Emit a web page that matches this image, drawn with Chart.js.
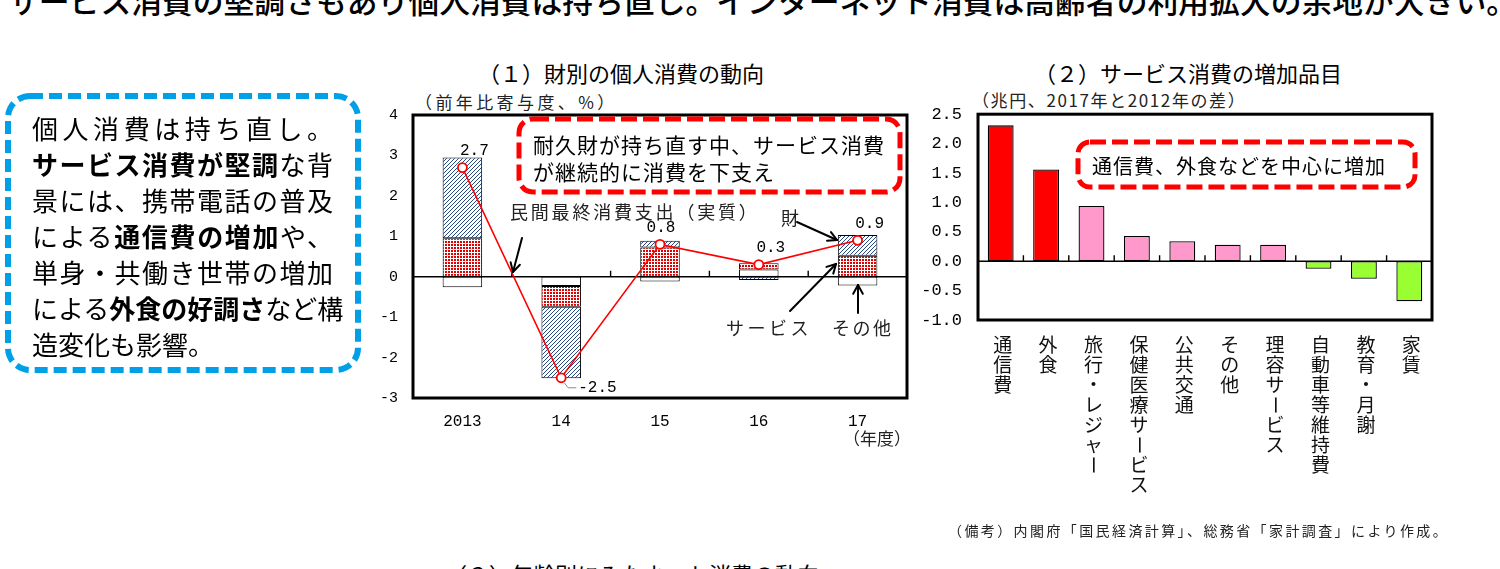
<!DOCTYPE html>
<html lang="ja">
<head>
<meta charset="UTF-8">
<title>個人消費の動向</title>
<script src="https://cdn.jsdelivr.net/npm/chart.js"></script>
<style>
  html, body { margin: 0; padding: 0; }
  body { width: 1500px; height: 569px; overflow: hidden; position: relative; background: #fff;
         font-family: "Noto Sans CJK JP", sans-serif; color: #000; }
  .abs { position: absolute; white-space: nowrap; }
  canvas { position: absolute; }
  #headline { left: 8px; top: -16px; font-size: 30.8px; line-height: 31px; font-weight: 500; }
  .title { font-size: 22px; line-height: 26px; }
  .unit { font-size: 17px; line-height: 20px; color: #222; }
  .note { font-size: 18px; line-height: 20px; color: #222; }
  #summary { left: 32px; top: 110px; width: 301px; font-size: 26px; line-height: 36px; }
  #summary div { text-align: justify; text-align-last: justify; white-space: nowrap; }
  #summary div.last { text-align-last: left; }
  #summary b { font-weight: 700; }
  .boxtext { font-size: 21px; line-height: 27px; letter-spacing: 1px; }
  #overlay { position: absolute; left: 0; top: 0; pointer-events: none; }
</style>
</head>
<body>

<div id="headline" class="abs">サービス消費の堅調さもあり個人消費は持ち直し。インターネット消費は高齢者の利用拡大の余地が大きい。</div>

<div class="abs title" style="left:478px; top:59px;">（１）財別の個人消費の動向</div>
<div class="abs title" style="left:1034px; top:59px;">（２）サービス消費の増加品目</div>
<div class="abs title" style="left:445px; top:560px;">（３）年齢別にみたネット消費の動向</div>

<div class="abs unit" style="left:415px; top:92px; letter-spacing:3.4px;">（前年比寄与度、%）</div>
<div class="abs unit" style="left:972px; top:90px; letter-spacing:1.6px;">（兆円、2017年と2012年の差）</div>

<canvas id="c1" width="545" height="369" style="left:370px; top:91px;"></canvas>
<canvas id="c2" width="520" height="412" style="left:920px; top:88px;"></canvas>

<svg id="overlay" width="1500" height="569"></svg>

<div id="summary" class="abs">
  <div>個人消費は持ち直し。</div>
  <div><b>サービス消費が堅調</b>な背</div>
  <div>景には、携帯電話の普及</div>
  <div>による<b>通信費の増加</b>や、</div>
  <div>単身・共働き世帯の増加</div>
  <div>による<b>外食の好調さ</b>など構</div>
  <div class="last">造変化も影響。</div>
</div>

<div class="abs boxtext" style="left:533px; top:131px;">耐久財が持ち直す中、サービス消費<br>が継続的に消費を下支え</div>
<div class="abs boxtext" style="left:1092px; top:154px; font-size:20px; line-height:24px;">通信費、外食などを中心に増加</div>

<div class="abs note" style="left:510px; top:201px; letter-spacing:2.8px;">民間最終消費支出（実質）</div>
<div class="abs note" style="left:781px; top:207px;">財</div>
<div class="abs note" style="left:726px; top:317px; letter-spacing:3.5px;">サービス</div>
<div class="abs note" style="left:832px; top:317px; letter-spacing:2.5px;">その他</div>
<div class="abs note" style="left:843px; top:428px; font-size:17px;">（年度）</div>

<div class="abs" style="left:948px; top:520px; font-size:14px; color:#222; letter-spacing:2.4px;">（備考）内閣府「国民経済計算」、総務省「家計調査」により作成。</div>

<script>
  // (1) 財別の個人消費の動向（前年比寄与度、%）
  const years = ['2013', '14', '15', '16', '17'];
  const goods = [2.0, -1.77, 0.17, -0.08, 0.51];
  const services = [0.95, -0.51, 0.72, 0.15, 0.52];
  const others = [-0.26, -0.23, -0.12, 0.18, -0.22];
  const privateConsumption = [2.7, -2.5, 0.8, 0.3, 0.9];

  // (2) サービス消費の増加品目（兆円）
  const items = ['通信費', '外食', '旅行・レジャー', '保健医療サービス', '公共交通', 'その他', '理容サービス', '自動車等維持費', '教育・月謝', '家賃'];
  const increase = [2.31, 1.56, 0.94, 0.43, 0.34, 0.28, 0.28, -0.13, -0.30, -0.68];
  const itemGroup = ['main', 'main', 'sub', 'sub', 'sub', 'sub', 'sub', 'down', 'down', 'down'];
  const groupColors = { main: '#ff0000', sub: '#ff99cc', down: '#99ff33' };

  function makePattern(w, h, draw) {
    const c = document.createElement('canvas');
    c.width = w; c.height = h;
    const g = c.getContext('2d');
    draw(g);
    return g.createPattern(c, 'repeat');
  }

  const hatch = makePattern(4, 4, g => {
    g.fillStyle = '#fff';
    g.fillRect(0, 0, 4, 4);
    g.strokeStyle = '#2a4a82';
    g.lineWidth = 1.0;
    g.beginPath();
    g.moveTo(0, 4); g.lineTo(4, 0);
    g.moveTo(-1, 1); g.lineTo(1, -1);
    g.moveTo(3, 5); g.lineTo(5, 3);
    g.stroke();
  });

  const dots = makePattern(3, 3, g => {
    g.fillStyle = '#fff';
    g.fillRect(0, 0, 3, 3);
    g.fillStyle = '#e00000';
    g.fillRect(0, 0, 2, 2);
  });

  // frame, zero line and the little ticks between categories
  const frame = {
    id: 'frame',
    beforeDatasetsDraw(chart) {
      const { ctx, chartArea: a, scales: { x, y } } = chart;
      const y0 = y.getPixelForValue(0);
      ctx.save();
      ctx.strokeStyle = '#000';
      ctx.lineWidth = 1.4;
      ctx.beginPath();
      ctx.moveTo(a.left, y0);
      ctx.lineTo(a.right, y0);
      for (let i = 0; i < chart.data.labels.length - 1; i++) {
        const bx = (x.getPixelForValue(i) + x.getPixelForValue(i + 1)) / 2;
        ctx.moveTo(bx, y0);
        ctx.lineTo(bx, y0 - 6);
      }
      ctx.stroke();
      ctx.restore();
    },
    afterDraw(chart) {
      const { ctx, chartArea: a } = chart;
      ctx.save();
      ctx.strokeStyle = '#000';
      ctx.lineWidth = 3;
      ctx.strokeRect(a.left, a.top, a.right - a.left, a.bottom - a.top);
      ctx.restore();
    }
  };

  const pointLabels = {
    id: 'pointLabels',
    afterDatasetsDraw(chart) {
      const { ctx } = chart;
      const meta = chart.getDatasetMeta(0);
      const vals = chart.data.datasets[0].data;
      ctx.save();
      ctx.font = '16px "Liberation Mono"';
      ctx.fillStyle = '#000';
      ctx.textBaseline = 'middle';
      meta.data.forEach((pt, i) => {
        const v = vals[i];
        const txt = v.toFixed(1);
        const peak = i > 0 && i < vals.length - 1 && vals[i - 1] < v && vals[i + 1] < v;
        if (v < 0) {
          ctx.strokeStyle = '#888';
          ctx.lineWidth = 1;
          ctx.beginPath();
          ctx.moveTo(pt.x + 3, pt.y + 5);
          ctx.lineTo(pt.x + 7, pt.y + 10);
          ctx.lineTo(pt.x + 15, pt.y + 10);
          ctx.stroke();
          ctx.textAlign = 'left';
          ctx.fillText(txt, pt.x + 17, pt.y + 10);
        } else if (peak) {
          ctx.textAlign = 'center';
          ctx.fillText(txt, pt.x + 1, pt.y - 17);
        } else {
          ctx.textAlign = 'center';
          ctx.fillText(txt, pt.x + 12, pt.y - 17);
        }
      });
      ctx.restore();
    }
  };

  const verticalLabels = {
    id: 'verticalLabels',
    afterDraw(chart) {
      const { ctx, chartArea: a, scales: { x } } = chart;
      ctx.save();
      ctx.fillStyle = '#111';
      ctx.font = '19px "Noto Sans CJK JP"';
      ctx.textAlign = 'center';
      ctx.textBaseline = 'middle';
      chart.data.labels.forEach((lab, i) => {
        const cx = x.getPixelForValue(i) + 2;
        Array.from(lab).forEach((ch, j) => {
          const cy = a.bottom + 25 + j * 20;
          if (ch === 'ー') {
            ctx.save();
            ctx.translate(cx, cy);
            ctx.rotate(Math.PI / 2);
            ctx.fillText(ch, 0, 0);
            ctx.restore();
          } else {
            ctx.fillText(ch, cx, cy);
          }
        });
      });
      ctx.restore();
    }
  };

  new Chart(document.getElementById('c1'), {
    type: 'bar',
    data: {
      labels: years,
      datasets: [
        {
          type: 'line', label: '民間最終消費支出（実質）', data: privateConsumption, stack: 'line', order: 0,
          borderColor: '#ff0000', borderWidth: 1.6, tension: 0,
          pointRadius: 4.5, pointBackgroundColor: '#fff', pointBorderColor: '#ff0000', pointBorderWidth: 1.8
        },
        { label: 'その他', data: others, backgroundColor: '#fff', stack: 'bar', order: 1 },
        { label: 'サービス', data: services, backgroundColor: dots, stack: 'bar', order: 1 },
        { label: '財', data: goods, backgroundColor: hatch, stack: 'bar', order: 1 }
      ]
    },
    options: {
      responsive: false,
      animation: false,
      layout: { padding: { top: 4, right: 8, left: 0, bottom: 0 } },
      datasets: {
        bar: { barPercentage: 0.4, categoryPercentage: 1, borderColor: '#000', borderWidth: 1, borderSkipped: false }
      },
      plugins: { legend: { display: false }, tooltip: { enabled: false } },
      scales: {
        x: {
          stacked: true,
          grid: { display: false, drawTicks: false },
          border: { display: false },
          ticks: { color: '#000', font: { family: 'Liberation Mono', size: 16 }, padding: 14 },
          afterFit(s) { s.height = 62; }
        },
        y: {
          stacked: true, min: -3, max: 4,
          grid: { display: false, drawTicks: false },
          border: { display: false },
          ticks: { stepSize: 1, color: '#000', font: { family: 'Liberation Mono', size: 15 }, padding: 15 },
          afterFit(s) { s.width = 43; }
        }
      }
    },
    plugins: [frame, pointLabels]
  });

  new Chart(document.getElementById('c2'), {
    type: 'bar',
    data: {
      labels: items,
      datasets: [{
        label: 'サービス消費の増加', data: increase,
        backgroundColor: itemGroup.map(g => groupColors[g]),
        borderColor: '#000', borderWidth: 1.3, borderSkipped: false,
        barPercentage: 0.57, categoryPercentage: 1
      }]
    },
    options: {
      responsive: false,
      animation: false,
      layout: { padding: { top: 1, right: 8, left: 0, bottom: 0 } },
      plugins: { legend: { display: false }, tooltip: { enabled: false } },
      scales: {
        x: {
          grid: { display: false, drawTicks: false },
          border: { display: false },
          ticks: { display: false },
          afterFit(s) { s.height = 180; }
        },
        y: {
          min: -1, max: 2.5,
          grid: { display: false, drawTicks: false },
          border: { display: false },
          ticks: { stepSize: 0.5, callback: v => v.toFixed(1), color: '#000', font: { family: 'Liberation Mono', size: 17 }, padding: 16 },
          afterFit(s) { s.width = 58; }
        }
      }
    },
    plugins: [frame, verticalLabels]
  });

  // dashed call-out boxes and arrows
  const svg = document.getElementById('overlay');
  const NS = 'http://www.w3.org/2000/svg';

  function addRect(x, y, w, h, rx, color, width, dash) {
    const r = document.createElementNS(NS, 'rect');
    r.setAttribute('x', x); r.setAttribute('y', y);
    r.setAttribute('width', w); r.setAttribute('height', h);
    r.setAttribute('rx', rx);
    r.setAttribute('fill', 'none');
    r.setAttribute('stroke', color);
    r.setAttribute('stroke-width', width);
    r.setAttribute('stroke-dasharray', dash);
    svg.appendChild(r);
  }

  function addLine(x1, y1, x2, y2, color, width) {
    const l = document.createElementNS(NS, 'line');
    l.setAttribute('x1', x1); l.setAttribute('y1', y1);
    l.setAttribute('x2', x2); l.setAttribute('y2', y2);
    l.setAttribute('stroke', color);
    l.setAttribute('stroke-width', width);
    l.setAttribute('stroke-linecap', 'round');
    svg.appendChild(l);
  }

  function arrow(x1, y1, x2, y2) {
    addLine(x1, y1, x2, y2, '#000', 2);
    const ang = Math.atan2(y2 - y1, x2 - x1);
    const len = 10, spread = 0.5;
    addLine(x2, y2, x2 - len * Math.cos(ang - spread), y2 - len * Math.sin(ang - spread), '#000', 2);
    addLine(x2, y2, x2 - len * Math.cos(ang + spread), y2 - len * Math.sin(ang + spread), '#000', 2);
  }

  addRect(8, 96, 350, 274, 22, '#00a0e9', 6, '13 6');
  addRect(519, 119, 381, 73, 14, '#ff0000', 5, '16 6');
  addRect(1078, 142, 337, 45, 12, '#ff0000', 5, '16 6');

  arrow(522, 238, 513, 272);
  arrow(797, 222, 837, 240);
  arrow(790, 311, 836, 264);
  arrow(858, 313, 858, 285);
</script>
</body>
</html>
